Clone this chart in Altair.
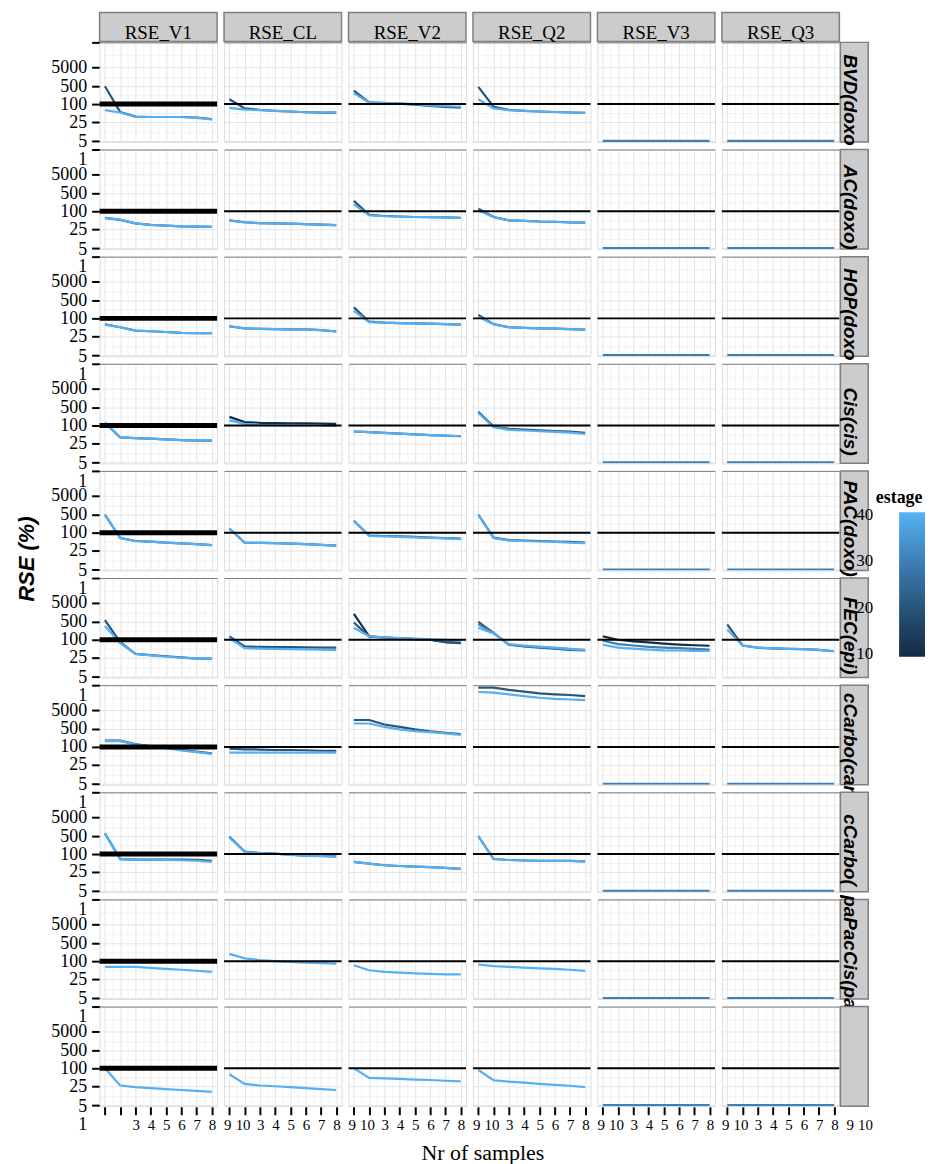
import altair as alt
import pandas as pd

# ---------------- data ----------------
row_labels = ["BVD(doxo", "AC(doxo)", "HOP(doxo", "Cis(cis)", "PAC(doxo)",
              "FEC(epi)", "cCarbo(car", "cCarbo(", "paPacCis(pac", ""]
row_keys = ["R%02d" % (i + 1) for i in range(len(row_labels))]
cols = ["RSE_V1", "RSE_CL", "RSE_V2", "RSE_Q2", "RSE_V3", "RSE_Q3"]
samples = [3, 4, 5, 6, 7, 8, 9, 10]
estage_levels = [10, 20, 30, 40]
y_breaks = [1, 5, 25, 100, 500, 5000, 50000]
y_labels = ["1", "5", "25", "100", "500", "5000", ""]
ref_level = 100

# each entry: (column, estage, RSE at samples 3..10)
BVD = [
    ("RSE_V1", 20, [500, 67, 48, 46, 46, 46, 44, 37]),
    ("RSE_V1", 40, [75, 65, 46, 46, 46, 46, 42, 36]),
    ("RSE_CL", 20, [208, 82, 76, 72, 69, 66, 64, 64]),
    ("RSE_CL", 40, [84, 77, 75, 72, 69, 66, 65, 65]),
    ("RSE_V2", 20, [400, 138, 125, 112, 98, 92, 88, 85]),
    ("RSE_V2", 40, [346, 135, 128, 115, 100, 95, 92, 89]),
    ("RSE_Q2", 20, [485, 89, 76, 72, 69, 67, 65, 63]),
    ("RSE_Q2", 40, [208, 82, 75, 72, 69, 67, 65, 63]),
    ("RSE_V3", 30, [5, 5, 5, 5, 5, 5, 5, 5]),
    ("RSE_Q3", 30, [5, 5, 5, 5, 5, 5, 5, 5]),
]
AC = [
    ("RSE_V1", 20, [72, 64, 49, 43, 40, 37, 36, 35]),
    ("RSE_V1", 40, [72, 65, 49, 43, 40, 37, 36, 36]),
    ("RSE_CL", 20, [62, 54, 50, 49, 48, 46, 44, 42]),
    ("RSE_CL", 40, [62, 53, 50, 49, 48, 46, 44, 42]),
    ("RSE_V2", 20, [330, 85, 80, 78, 76, 75, 74, 72]),
    ("RSE_V2", 40, [254, 83, 79, 77, 76, 75, 74, 72]),
    ("RSE_Q2", 20, [154, 76, 62, 60, 57, 56, 53, 52]),
    ("RSE_Q2", 40, [123, 75, 62, 60, 57, 56, 53, 52]),
    ("RSE_V3", 30, [5, 5, 5, 5, 5, 5, 5, 5]),
    ("RSE_Q3", 30, [5, 5, 5, 5, 5, 5, 5, 5]),
]
HOP = [
    ("RSE_V1", 20, [75, 63, 49, 46, 43, 39, 38, 38]),
    ("RSE_V1", 40, [75, 63, 49, 46, 43, 39, 38, 38]),
    ("RSE_CL", 20, [67, 58, 56, 55, 54, 54, 51, 45]),
    ("RSE_CL", 40, [67, 58, 56, 55, 54, 54, 51, 45]),
    ("RSE_V2", 20, [346, 86, 82, 80, 79, 78, 76, 74]),
    ("RSE_V2", 40, [270, 84, 82, 80, 79, 78, 76, 75]),
    ("RSE_Q2", 20, [177, 76, 63, 60, 58, 57, 55, 53]),
    ("RSE_Q2", 40, [138, 75, 63, 60, 58, 57, 55, 53]),
    ("RSE_V3", 30, [5, 5, 5, 5, 5, 5, 5, 5]),
    ("RSE_Q3", 30, [5, 5, 5, 5, 5, 5, 5, 5]),
]
CIS = [
    ("RSE_V1", 20, [162, 50, 47, 45, 42, 39, 37, 37]),
    ("RSE_V1", 40, [162, 50, 47, 45, 42, 39, 37, 37]),
    ("RSE_CL", 10, [292, 177, 160, 155, 150, 146, 142, 138]),
    ("RSE_CL", 40, [215, 138, 115, 110, 105, 102, 100, 97]),
    ("RSE_V2", 20, [75, 72, 69, 66, 63, 60, 58, 55]),
    ("RSE_V2", 40, [75, 72, 69, 66, 63, 60, 58, 55]),
    ("RSE_Q2", 20, [408, 96, 86, 83, 80, 77, 74, 69]),
    ("RSE_Q2", 40, [380, 93, 82, 79, 76, 73, 70, 65]),
    ("RSE_V3", 30, [5, 5, 5, 5, 5, 5, 5, 5]),
    ("RSE_Q3", 30, [5, 5, 5, 5, 5, 5, 5, 5]),
]
PAC = [
    ("RSE_V1", 20, [500, 77, 65, 62, 58, 55, 52, 48]),
    ("RSE_V1", 40, [500, 77, 65, 62, 58, 55, 52, 48]),
    ("RSE_CL", 20, [192, 58, 57, 56, 54, 52, 49, 46]),
    ("RSE_CL", 40, [192, 58, 57, 56, 54, 52, 49, 46]),
    ("RSE_V2", 20, [362, 88, 86, 84, 82, 79, 77, 75]),
    ("RSE_V2", 40, [362, 86, 84, 82, 80, 78, 76, 73]),
    ("RSE_Q2", 20, [500, 79, 69, 67, 65, 63, 61, 58]),
    ("RSE_Q2", 40, [500, 77, 67, 65, 63, 61, 58, 56]),
    ("RSE_V3", 30, [5, 5, 5, 5, 5, 5, 5, 5]),
    ("RSE_Q3", 30, [5, 5, 5, 5, 5, 5, 5, 5]),
]
FEC = [
    ("RSE_V1", 20, [910, 90, 41, 36, 31, 26, 24, 24]),
    ("RSE_V1", 40, [408, 86, 41, 35, 29, 25, 24, 24]),
    ("RSE_CL", 20, [177, 72, 70, 69, 69, 68, 67, 67]),
    ("RSE_CL", 40, [138, 65, 63, 62, 61, 60, 59, 58]),
    ("RSE_V2", 10, [2380, 177, 150, 130, 115, 100, 90, 86]),
    ("RSE_V2", 20, [485, 170, 150, 130, 115, 100, 90, 88]),
    ("RSE_V2", 40, [369, 177, 154, 140, 125, 110, 100, 96]),
    ("RSE_Q2", 20, [500, 254, 79, 72, 67, 63, 58, 55]),
    ("RSE_Q2", 30, [446, 254, 80, 74, 69, 65, 61, 57]),
    ("RSE_Q2", 40, [369, 240, 82, 76, 71, 67, 62, 58]),
    ("RSE_V3", 10, [177, 100, 93, 89, 84, 80, 77, 75]),
    ("RSE_V3", 30, [96, 82, 76, 70, 67, 65, 62, 59]),
    ("RSE_V3", 40, [79, 67, 63, 59, 56, 55, 53, 53]),
    ("RSE_Q3", 20, [446, 76, 67, 64, 62, 61, 58, 52]),
    ("RSE_Q3", 40, [330, 76, 67, 64, 62, 61, 58, 52]),
]
CCARBO_A = [
    ("RSE_V1", 20, [238, 238, 162, 115, 97, 87, 80, 73]),
    ("RSE_V1", 40, [230, 230, 155, 112, 95, 85, 78, 71]),
    ("RSE_CL", 20, [93, 90, 89, 87, 87, 86, 84, 84]),
    ("RSE_CL", 40, [76, 76, 76, 76, 76, 76, 76, 76]),
    ("RSE_V2", 20, [2630, 2630, 1560, 990, 492, 446, 415, 385]),
    ("RSE_V2", 40, [1810, 1810, 990, 492, 454, 430, 400, 369]),
    ("RSE_Q2", 20, [45700, 45700, 41400, 38300, 35200, 33400, 32200, 30300]),
    ("RSE_Q2", 40, [37700, 36400, 33400, 30300, 27200, 25300, 24100, 22900]),
    ("RSE_V3", 30, [5, 5, 5, 5, 5, 5, 5, 5]),
    ("RSE_Q3", 30, [5, 5, 5, 5, 5, 5, 5, 5]),
]
CCARBO_B = [
    ("RSE_V1", 20, [1150, 79, 77, 77, 77, 77, 76, 72]),
    ("RSE_V1", 40, [1150, 79, 77, 76, 75, 74, 72, 67]),
    ("RSE_CL", 20, [485, 154, 123, 108, 97, 93, 92, 90]),
    ("RSE_CL", 40, [470, 150, 120, 106, 96, 92, 91, 89]),
    ("RSE_V2", 20, [67, 60, 53, 50, 47, 45, 42, 38]),
    ("RSE_V2", 40, [67, 60, 53, 50, 47, 45, 42, 38]),
    ("RSE_Q2", 20, [500, 79, 75, 73, 72, 71, 71, 69]),
    ("RSE_Q2", 40, [500, 79, 75, 73, 72, 71, 71, 69]),
    ("RSE_V3", 30, [5, 5, 5, 5, 5, 5, 5, 5]),
    ("RSE_Q3", 30, [5, 5, 5, 5, 5, 5, 5, 5]),
]
PAPACCIS = [
    ("RSE_V1", 40, [76, 76, 76, 72, 68, 64, 60, 55]),
    ("RSE_CL", 40, [262, 162, 123, 100, 97, 94, 92, 90]),
    ("RSE_V2", 40, [83, 62, 55, 52, 49, 47, 45, 45]),
    ("RSE_Q2", 40, [86, 79, 76, 73, 70, 68, 64, 59]),
    ("RSE_V3", 30, [5, 5, 5, 5, 5, 5, 5, 5]),
    ("RSE_Q3", 30, [5, 5, 5, 5, 5, 5, 5, 5]),
]
LAST = [
    ("RSE_V1", 40, [100, 28, 24, 23, 22, 21, 20, 19]),
    ("RSE_CL", 40, [75, 35, 28, 25, 24, 23, 22, 21]),
    ("RSE_V2", 40, [100, 60, 58, 56, 53, 51, 48, 45]),
    ("RSE_Q2", 40, [93, 50, 44, 40, 35, 31, 27, 24]),
    ("RSE_V3", 30, [5, 5, 5, 5, 5, 5, 5, 5]),
    ("RSE_Q3", 30, [5, 5, 5, 5, 5, 5, 5, 5]),
]
panel_rows = [BVD, AC, HOP, CIS, PAC, FEC, CCARBO_A, CCARBO_B, PAPACCIS, LAST]

records = []
for rk, rl, lines in zip(row_keys, row_labels, panel_rows):
    for c, e, vals in lines:
        for n, v in zip(samples, vals):
            records.append({"row": rk, "rlab": rl, "col": c, "estage": e,
                            "n": n, "rse": v})
df = pd.DataFrame(records).sort_values(["row", "col", "estage", "n"])

# ---------------- y scale: piecewise ("axis units") ----------------
# axis units of each break (uneven spacing, as the reference axis is drawn)
y_units = [0, 18, 37, 55, 73, 92, 117]


def piecewise_expr(field):
    parts = []
    for i in range(1, len(y_breaks)):
        b0, b1 = y_breaks[i - 1], y_breaks[i]
        u0, u1 = y_units[i - 1], y_units[i]
        parts.append("%s <= %s ? %s + (%s - %s) / %s * %s" %
                     (field, b1, u0, field, b0, b1 - b0, u1 - u0))
    return " : ".join(parts) + " : %s" % y_units[-1]


# label text per tick (the lowest labelled tick also carries the "1" line below it)
unit_label = "{" + ",".join(
    "'%s':%s" % (u, ("['%s','%s']" % (l, y_labels[0])) if i == 1 else "'%s'" % l)
    for i, (u, l) in enumerate(zip(y_units, y_labels)) if i > 0) + "}"
y_major = y_units[1:]
y_unit_minor = [(a + b) / 2 for a, b in zip(y_major[:-1], y_major[1:])]

W, H = 118, 100
SERIF = "Liberation Serif"
SANS = "Liberation Sans"
NBSP = "\u00a0"

x_minor = [(a + b) / 2 for a, b in zip(samples[:-1], samples[1:])]

x_enc = alt.X(
    "n:Q", title=None,
    scale=alt.Scale(domain=[2.65, 10.35], nice=False, zero=False),
    axis=alt.Axis(
        values=samples + x_minor, tickCount=100, domain=False, grid=True,
        labelExpr="datum.value % 1 == 0 ? '' + datum.value : ''",
        labelOffset=31, labelFont=SERIF, labelFontSize=15, labelColor="black",
        labelOverlap=False, labelBound=False, labelFlush=False, labelPadding=3,
        tickSize={"condition": {"test": "datum.value % 1 != 0", "value": 0}, "value": 8},
        tickColor="black", tickWidth=2,
        gridColor={"condition": {"test": "datum.value % 1 != 0", "value": "#F3F3F3"}, "value": "#E4E4E4"},
        gridWidth=1,
    ),
)
major_test = "indexof(%s, datum.value) >= 0" % str(y_major)
y_enc = alt.Y(
    "yu:Q", title=None,
    scale=alt.Scale(domain=[y_units[1] - 1, y_units[-1]], nice=False, zero=False),
    axis=alt.Axis(
        values=y_major + y_unit_minor, tickCount=100, domain=False, grid=True,
        labelExpr="%s ? %s['' + datum.value] : ''" % (major_test, unit_label),
        labelFont=SERIF, labelFontSize=18, labelColor="black", labelLineHeight=18,
        labelOverlap=False, labelBound=False, labelFlush=False, labelPadding=5,
        labelBaseline={"condition": {"test": "datum.value == %s" % y_units[1],
                                     "value": "alphabetic"}, "value": "middle"},
        labelOffset={"condition": {"test": "datum.value == %s" % y_units[1],
                                   "value": 6}, "value": 0},
        tickSize={"condition": {"test": major_test, "value": 8}, "value": 0},
        tickColor="black", tickWidth=2,
        gridColor={"condition": {"test": "datum.value == %s" % y_units[-1], "value": "#7F7F7F"},
                   "value": "#E4E4E4"},
        gridOpacity={"condition": {"test": major_test, "value": 1}, "value": 0.45},
        gridWidth=1,
    ),
)

color_enc = alt.Color(
    "estage:Q",
    scale=alt.Scale(domain=[9.5, 40.5], range=["#132B43", "#56B1F7"], interpolate="lab"),
    legend=alt.Legend(
        title="estage", orient="none", legendX=780, legendY=449,
        direction="vertical", gradientLength=145, gradientThickness=26,
        gradientStrokeWidth=0, values=estage_levels,
        labelAlign="right", labelOffset={"expr": "-69"}, labelFont=SERIF, labelFontSize=17,
        labelColor="black", titleFont=SERIF, titleFontSize=18, titleFontWeight="bold",
        titleColor="black", titleAnchor="start", titleAlign="center",
    ),
)

base = alt.Chart()

lines = base.transform_calculate(yu=piecewise_expr("datum.rse")).mark_line(
    strokeWidth=2.2, clip=True).encode(
    x=x_enc, y=y_enc, color=color_enc, detail="estage:Q"
)

cells = base.transform_aggregate(cnt="count()", groupby=["row", "col", "rlab"])

ref_rule = cells.transform_calculate(ref="%s" % ref_level).transform_calculate(
    yu=piecewise_expr("datum.ref")).mark_rule(color="black").encode(
    y=alt.Y("yu:Q"),
    strokeWidth=alt.condition("datum.col == 'RSE_V1'", alt.value(5), alt.value(2)),
)

top_strip = cells.transform_filter("datum.row == '%s'" % row_keys[0])
top_rect = top_strip.mark_rect(fill="#CCCCCC", stroke="#7F7F7F", strokeWidth=1.5).encode(
    x=alt.value(0), x2=alt.value(W), y=alt.value(-30), y2=alt.value(-1)
)
top_text = top_strip.mark_text(font=SERIF, fontSize=19, align="center",
                               baseline="alphabetic", color="black").encode(
    x=alt.value(W / 2), y=alt.value(-3), text="col:N"
)

side_strip = cells.transform_filter("datum.col == '%s'" % cols[-1])
side_rect = side_strip.mark_rect(fill="#CCCCCC", stroke="#7F7F7F", strokeWidth=1.5).encode(
    x=alt.value(W + 1), x2=alt.value(W + 29), y=alt.value(0), y2=alt.value(H)
)
side_text = side_strip.mark_text(font=SANS, fontSize=19, fontWeight="bold", fontStyle="italic",
                                 angle=90, align="center", baseline="alphabetic",
                                 color="black").encode(
    x=alt.value(W + 5), y=alt.value(58), text="rlab:N"
)

layered = alt.layer(lines, ref_rule, top_rect, top_text, side_rect, side_text,
                    data=df).properties(width=W, height=H)

chart = layered.facet(
    row=alt.Row("row:N", sort=row_keys,
                header=alt.Header(labels=False, title="RSE (%)" + NBSP * 8, titleFont=SANS,
                                  titleFontSize=22, titleFontWeight="bold",
                                  titleFontStyle="italic", titleColor="black",
                                  titlePadding=2, labelPadding=0)),
    column=alt.Column("col:N", sort=cols,
                      header=alt.Header(labels=False, title="Nr of samples",
                                        labelOrient="bottom", labelPadding=0,
                                        titleOrient="bottom", titleFont=SERIF,
                                        titleFontSize=22, titleFontWeight="normal",
                                        titleColor="black", titlePadding=0)),
    spacing={"row": 7.6, "column": 7},
    bounds="flush",
).properties(
    padding={"left": 7, "top": 0, "right": 0, "bottom": 0}
).configure_view(
    stroke="#7F7F7F", strokeWidth=2, fill="white"
).configure(background="white")

chart.save("out.html", embed_options={"renderer": "svg", "actions": False})
